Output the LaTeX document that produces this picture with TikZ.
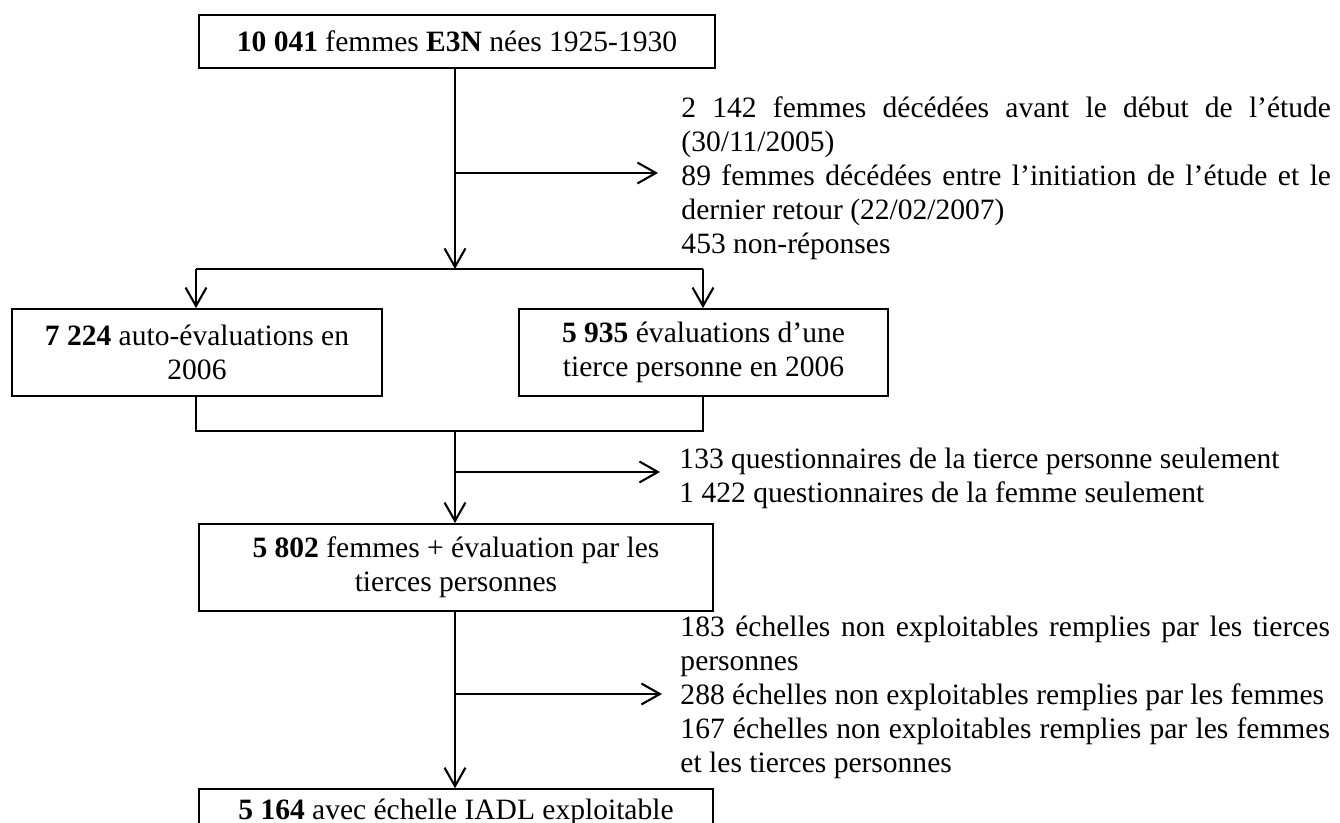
\documentclass[tikz,border=0pt]{standalone}
\usepackage{fontspec}
\setmainfont{Liberation Serif}
\usetikzlibrary{arrows.meta}
\setlength{\parindent}{0pt}
\tolerance=10000
\hbadness=10000

\tikzset{
    box/.style={draw, line width=0.7pt, align=center, inner sep=0pt, font=\fontsize{12}{13.8}\selectfont},
    note/.style={anchor=north west, inner sep=0pt, text width=264pt, align=justify, font=\fontsize{12}{13.8}\selectfont},
    link/.style={line width=0.85pt},
    arr/.style={link, -{Straight Barb[length=7.5pt,width=8.5pt,line width=0.85pt]}}
}

\begin{document}
\begin{tikzpicture}[x=0.4065pt, y=-0.4065pt]
    \useasboundingbox (0,0) rectangle (1340,823);

    %boxes
    \node[box, minimum width=209.8pt, minimum height=21.5pt] (cohort) at (457,41.5) {\textbf{10 041} femmes \textbf{E3N} nées 1925-1930};
    \node[box, minimum width=150.4pt, minimum height=35.4pt] (self) at (197,352.5) {\textbf{7 224} auto-évaluations en\\2006};
    \node[box, minimum width=150pt, minimum height=35.4pt] (proxy) at (703.5,352.5) {\textbf{5 935} évaluations d’une\\tierce personne en 2006};
    \node[box, minimum width=209pt, minimum height=35.4pt] (both) at (456,567.5) {\textbf{5 802} femmes + évaluation par les\\tierces personnes};
    \node[box, minimum width=209pt, minimum height=19pt] (iadl) at (456,812.5) {\textbf{5 164} avec échelle IADL exploitable};

    %exclusions
    \node[note] (dead) at (681,93) {\strut 2 142 femmes décédées avant le début de l’étude\linebreak (30/11/2005)\par 89 femmes décédées entre l’initiation de l’étude et le\linebreak dernier retour (22/02/2007)\par 453 non-réponses};
    \node[note] (single) at (679,444) {\strut 133 questionnaires de la tierce personne seulement\par 1 422 questionnaires de la femme seulement};
    \node[note] (unusable) at (680,612) {\strut 183 échelles non exploitables remplies par les tierces\linebreak personnes\par 288 échelles non exploitables remplies par les femmes\par 167 échelles non exploitables remplies par les femmes\linebreak et les tierces personnes};

    %branch points
    \coordinate (split) at (455,269);
    \coordinate (splitL) at (196,269);
    \coordinate (splitR) at (703,269);
    \coordinate (join) at (455,431);
    \coordinate (out1) at (658,173);
    \coordinate (out2) at (660,472);
    \coordinate (out3) at (662,694);

    %connectors
    \draw[arr] (split |- cohort.south) -- (split);
    \draw[arr] (split |- out1) -- (out1);
    \draw[link] (splitL) -- (splitR);
    \draw[arr] (splitL) -- (splitL |- self.north);
    \draw[arr] (splitR) -- (splitR |- proxy.north);
    \draw[link] (splitL |- self.south) -- (splitL |- join) -- (splitR |- join) -- (splitR |- proxy.south);
    \draw[arr] (join) -- (join |- both.north);
    \draw[arr] (join |- out2) -- (out2);
    \draw[arr] (join |- both.south) -- (join |- iadl.north);
    \draw[arr] (join |- out3) -- (out3);
\end{tikzpicture}
\end{document}
